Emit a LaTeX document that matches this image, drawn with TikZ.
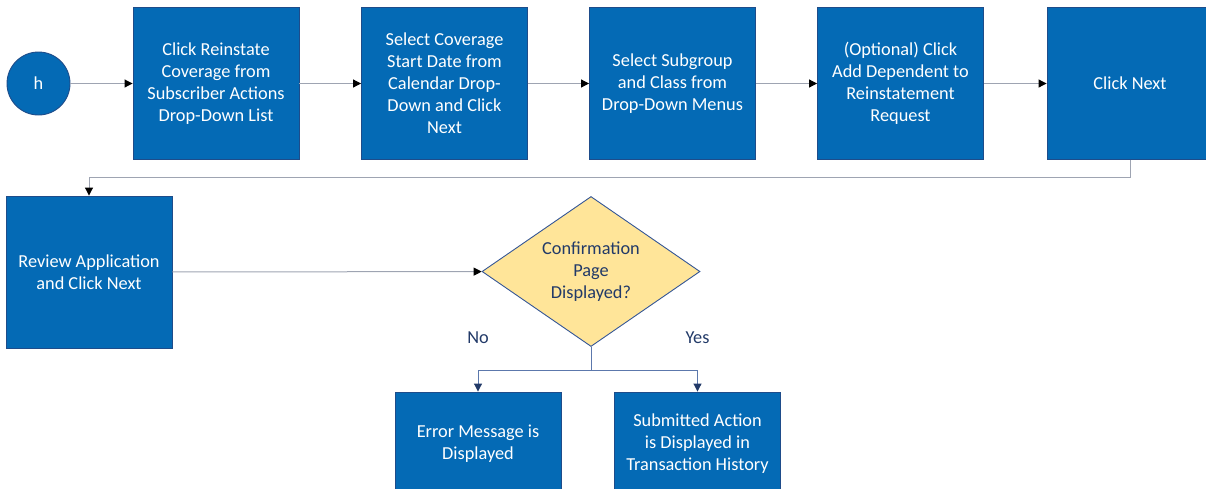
\documentclass[tikz,border=0pt]{standalone}
\usepackage{fontspec}
\setmainfont{Carlito}
\usepackage{tikz}
\usetikzlibrary{shapes.geometric, arrows.meta, positioning}
\definecolor{boxblue}{RGB}{4,106,181}
\definecolor{boxedge}{RGB}{30,76,138}
\definecolor{qyellow}{RGB}{255,229,153}
\definecolor{qedge}{RGB}{52,86,150}
\definecolor{navytext}{RGB}{34,58,104}
\definecolor{linegray}{RGB}{158,164,178}
\definecolor{branchblue}{RGB}{92,120,172}

\begin{document}
\begin{tikzpicture}[x=1pt, y=-1pt,
  stepbox/.style={rectangle, draw=boxedge, fill=boxblue, line width=0.9pt,
    minimum width=166pt, minimum height=152pt, inner sep=0pt,
    align=center, text=white, font=\fontsize{18.3}{22}\selectfont},
  lowbox/.style={stepbox, minimum height=104pt},
  startdot/.style={circle, draw=boxedge, fill=boxblue, line width=0.9pt,
    minimum size=63pt, inner sep=0pt, text=white, font=\fontsize{18.3}{22}\selectfont},
  query/.style={diamond, draw=qedge, fill=qyellow, line width=0.9pt,
    minimum width=218pt, minimum height=150pt, aspect=1.45, inner sep=0pt,
    align=center, text=navytext, font=\fontsize{18.3}{22}\selectfont},
  flow/.style={draw=linegray, line width=1pt,
    -{Triangle[length=8pt, width=8pt, black]}},
  branch/.style={draw=branchblue, line width=1pt,
    -{Triangle[length=8pt, width=8pt, navytext]}},
  answer/.style={text=navytext, font=\fontsize{18.3}{22}\selectfont}]
  \useasboundingbox (0,0) rectangle (1206,488);

  \node[startdot] (start) at (38.5,83.5) {h};
  \node[stepbox] (reinstate) at (216,83.5) {Click Reinstate\\Coverage from\\Subscriber Actions\\Drop-Down List};
  \node[stepbox] (startdate) at (444.5,83.5) {Select Coverage\\Start Date from\\Calendar Drop-\\Down and Click\\Next};
  \node[stepbox] (subgroup) at (672.5,83.5) {Select Subgroup\\and Class from\\Drop-Down Menus};
  \node[stepbox] (dependent) at (900.5,83.5) {(Optional) Click\\Add Dependent to\\Reinstatement\\Request};
  \node[stepbox] (clicknext) at (1130,83.5) {Click Next};
  \node[stepbox] (review) at (89,272) {Review Application\\and Click Next};
  \node[query] (confirm) at (591,271.5) {Confirmation\\Page\\Displayed?};
  \node[lowbox] (errormsg) at (478,444) {Error Message is\\Displayed};
  \node[lowbox] (submitted) at (697.5,444) {Submitted Action\\is Displayed in\\Transaction History};
  \node[answer] (no) at (478,338) {No};
  \node[answer] (yes) at (697.5,338) {Yes};

  \draw[flow] (start) -- (start -| reinstate.west);
  \draw[flow] (reinstate) -- (startdate);
  \draw[flow] (startdate) -- (subgroup);
  \draw[flow] (subgroup) -- (dependent);
  \draw[flow] (dependent) -- (clicknext);
  \draw[flow] (clicknext.south) -- ++(0,18) -| (review.north);
  \draw[flow] (review) -- (confirm);
  \draw[draw=branchblue, line width=1pt] (confirm.south) -- ++(0,23.5) coordinate (split);
  \draw[branch] (split) -| (errormsg.north);
  \draw[branch] (split) -| (submitted.north);
\end{tikzpicture}
\end{document}
